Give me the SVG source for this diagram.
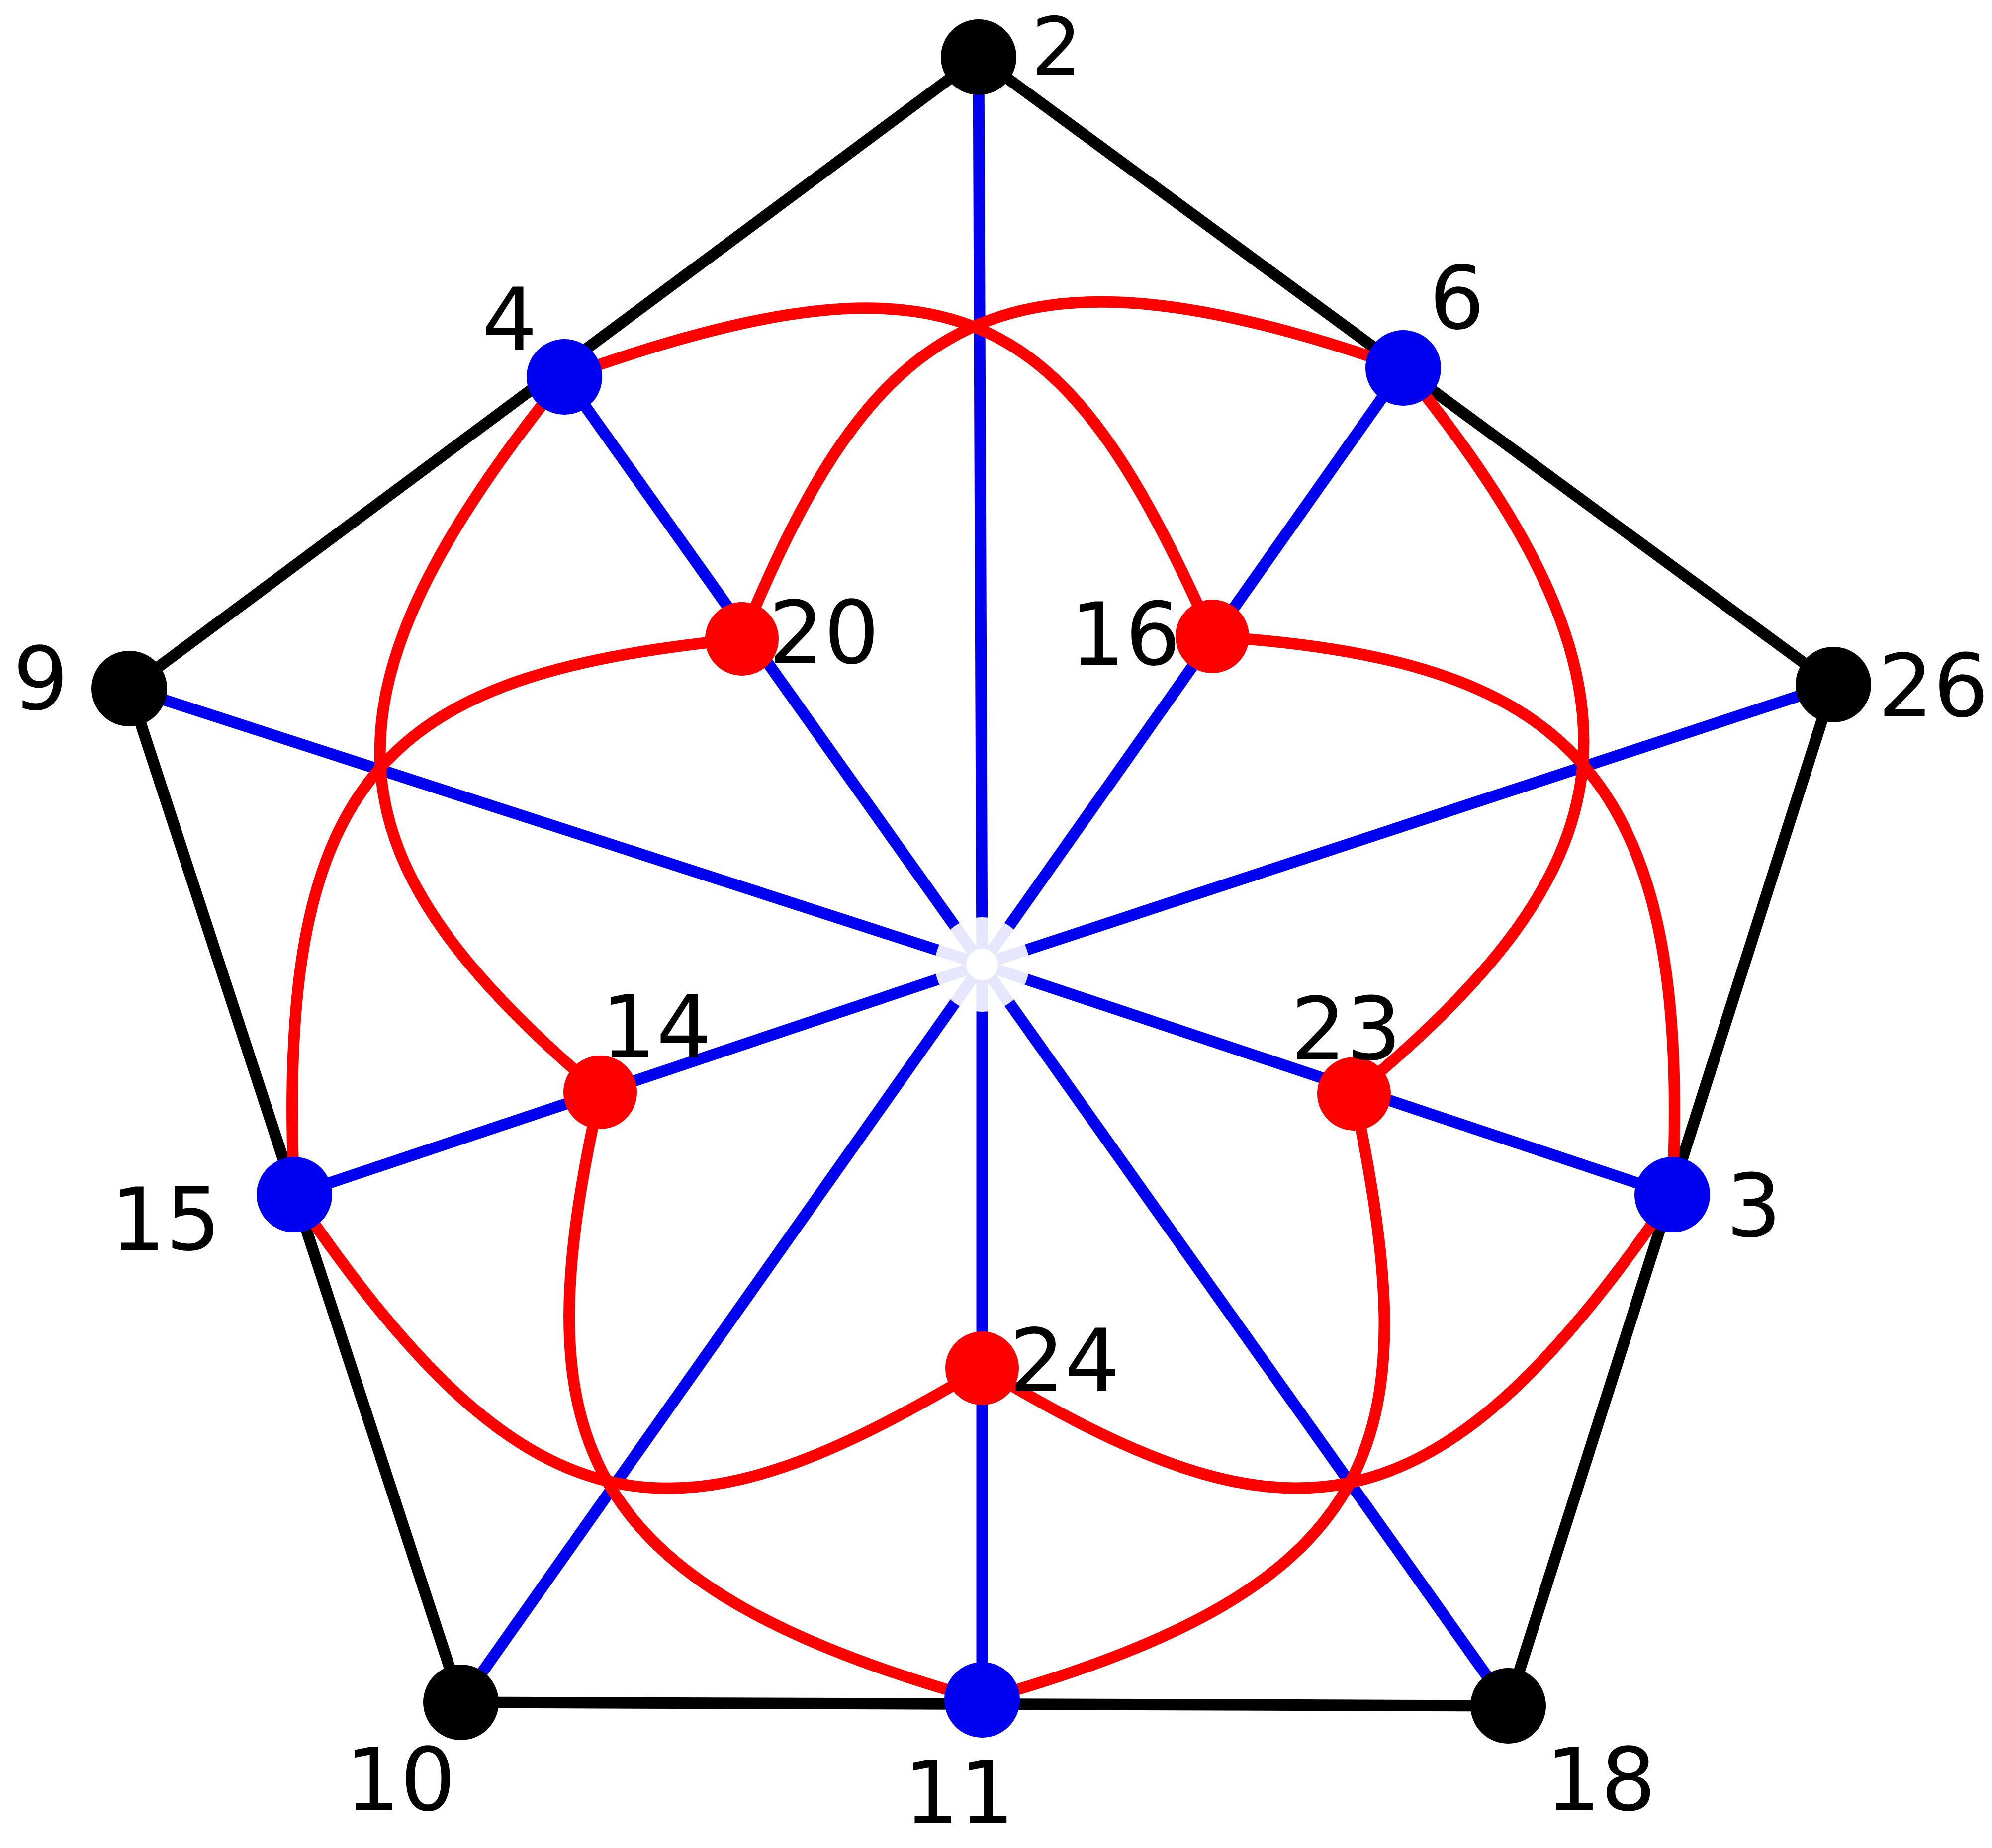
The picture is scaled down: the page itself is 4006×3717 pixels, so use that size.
<svg xmlns="http://www.w3.org/2000/svg" width="4006" height="3717" viewBox="0 0 4006 3717">
<style>
.bk{stroke:#000;stroke-width:23;fill:none;stroke-linecap:round}
.bl{stroke:#0000f0;stroke-width:23;fill:none}
.rd{stroke:#ff0000;stroke-width:23;fill:none;stroke-linecap:round}
.nb{fill:#000}
.nu{fill:#0000f0}
.nr{fill:#ff0000}
text{font-family:"DejaVu Sans","Liberation Sans",sans-serif;font-size:175px;fill:#000;text-anchor:middle}
</style>
<rect width="4006" height="3717" fill="#fff"/>
<g id="connectors">
<g id="blue-spokes">
<line class="bl" x1="1975" y1="1940" x2="1968" y2="115"/>
<line class="bl" x1="1975" y1="1940" x2="1135" y2="758"/>
<line class="bl" x1="1975" y1="1940" x2="2822" y2="740"/>
<line class="bl" x1="1975" y1="1940" x2="260" y2="1385"/>
<line class="bl" x1="1975" y1="1940" x2="3687" y2="1377"/>
<line class="bl" x1="1975" y1="1940" x2="592" y2="2403"/>
<line class="bl" x1="1975" y1="1940" x2="3363" y2="2403"/>
<line class="bl" x1="1975" y1="1940" x2="927" y2="3424"/>
<line class="bl" x1="1975" y1="1940" x2="1975" y2="3419"/>
<line class="bl" x1="1975" y1="1940" x2="3033" y2="3431"/>
</g>
<g id="pentagon">
<polygon class="bk" points="1968,115 3687,1377 3033,3431 927,3424 260,1385" stroke-linejoin="round"/>
</g>
<g id="red-curves">
<path class="rd" d="M1135,758 C1954,463 2151,642 2438,1280"/>
<path class="rd" d="M2822,740 C2002,450 1758,637 1492,1285"/>
<path class="rd" d="M1135,758 C588,1434 675,1741 1207,2197"/>
<path class="rd" d="M592,2403 C550,1534 795,1355 1492,1285"/>
<path class="rd" d="M2822,740 C3373,1413 3262,1753 2723,2200"/>
<path class="rd" d="M3363,2403 C3407,1534 3136,1326 2438,1280"/>
<path class="rd" d="M592,2403 C1078,3124 1375,3113 1975,2752"/>
<path class="rd" d="M1975,3419 C1137,3185 1054,2880 1207,2197"/>
<path class="rd" d="M3363,2403 C2875,3123 2575,3113 1975,2752"/>
<path class="rd" d="M1975,3419 C2813,3185 2865,2885 2723,2200"/>
</g>
</g>
<g id="center">
<circle cx="1975" cy="1940" r="95" fill="#fff" fill-opacity="0.9"/>
<circle cx="1975" cy="1940" r="32" fill="#fff"/>
</g>
<g id="n2"><circle class="nb" cx="1968" cy="115" r="76"/><text x="2125" y="150" style="font-size:160px">2</text></g>
<g id="n4"><circle class="nu" cx="1135" cy="758" r="76"/><text x="1025" y="704">4</text></g>
<g id="n6"><circle class="nu" cx="2822" cy="740" r="76"/><text x="2930" y="661">6</text></g>
<g id="n9"><circle class="nb" cx="260" cy="1385" r="76"/><text x="82" y="1427">9</text></g>
<g id="n26"><circle class="nb" cx="3687" cy="1377" r="76"/><text x="3888" y="1441">26</text></g>
<g id="n20"><circle class="nr" cx="1492" cy="1285" r="74"/><text x="1657" y="1334">20</text></g>
<g id="n16"><circle class="nr" cx="2438" cy="1280" r="74"/><text x="2263" y="1337">16</text></g>
<g id="n14"><circle class="nr" cx="1207" cy="2197" r="74"/><text x="1320" y="2127">14</text></g>
<g id="n23"><circle class="nr" cx="2723" cy="2200" r="74"/><text x="2707" y="2131">23</text></g>
<g id="n15"><circle class="nu" cx="592" cy="2403" r="76"/><text x="333" y="2514">15</text></g>
<g id="n3"><circle class="nu" cx="3363" cy="2403" r="76"/><text x="3527" y="2487">3</text></g>
<g id="n24"><circle class="nr" cx="1975" cy="2752" r="74"/><text x="2141" y="2798">24</text></g>
<g id="n10"><circle class="nb" cx="927" cy="3424" r="76"/><text x="805" y="3641">10</text></g>
<g id="n11"><circle class="nu" cx="1975" cy="3419" r="76"/><text x="1929" y="3667">11</text></g>
<g id="n18"><circle class="nb" cx="3033" cy="3431" r="76"/><text x="3219" y="3641">18</text></g>
</svg>
